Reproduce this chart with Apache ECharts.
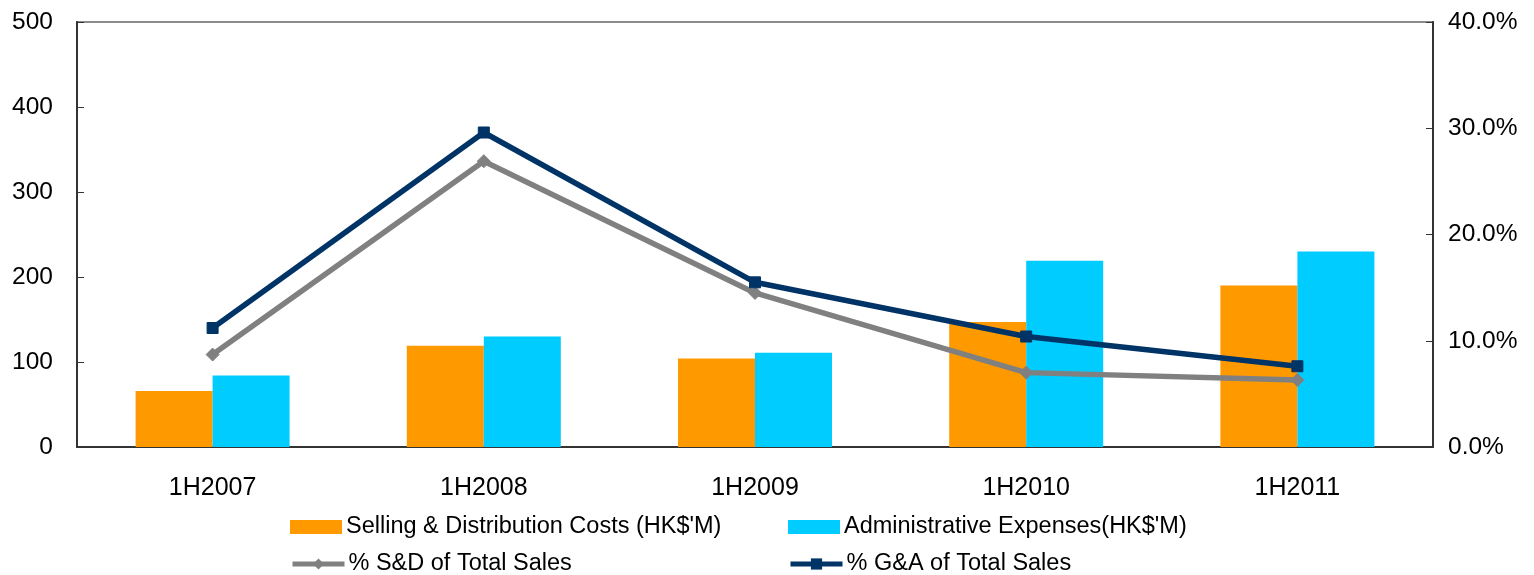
<!DOCTYPE html>
<html>
<head>
<meta charset="utf-8">
<script src="https://cdn.jsdelivr.net/npm/echarts@6/dist/echarts.min.js"></script>
<style>
  html,body{margin:0;padding:0;background:#fff;}
  #chart{width:1534px;height:575px;}
</style>
</head>
<body>
<div id="chart"></div>
<script>
var categories = ['1H2007', '1H2008', '1H2009', '1H2010', '1H2011'];
var sellingCosts = [66, 119, 104, 147, 190];
var adminExpenses = [84, 130, 111, 219, 230];
var pctSD = [8.7, 26.9, 14.5, 7.0, 6.3];
var pctGA = [11.2, 29.6, 15.5, 10.4, 7.6];

var FONT = 'Liberation Sans, Arial, sans-serif';
var chart = echarts.init(document.getElementById('chart'));

function legendAt(name, left, top, icon) {
  var lg = {
    data: [name],
    left: left,
    top: top,
    itemWidth: 52,
    itemHeight: 14,
    itemGap: 0,
    padding: 0,
    lineStyle: { width: 5 },
    textStyle: { fontFamily: FONT, fontSize: 23.5, color: '#000', padding: [0, 0, 0, -1] }
  };
  if (icon) lg.icon = icon;
  return lg;
}

chart.setOption({
  animation: false,
  grid: {
    left: 77, right: 101, top: 22, bottom: 128,
    show: true, borderColor: '#8c8c8c', borderWidth: 2
  },
  legend: [
    legendAt('Selling & Distribution Costs (HK$\'M)', 290, 515, 'rect'),
    legendAt('Administrative Expenses(HK$\'M)', 788, 515, 'rect'),
    legendAt('% S&D of Total Sales', 290, 552),
    legendAt('% G&A of Total Sales', 788, 552)
  ],
  xAxis: {
    type: 'category',
    data: categories,
    axisLine: { lineStyle: { color: '#333', width: 2 } },
    axisTick: { inside: true, length: 7, lineStyle: { color: '#333' } },
    axisLabel: { fontFamily: FONT, fontSize: 25, color: '#000', margin: 29 }
  },
  yAxis: [
    {
      type: 'value', min: 0, max: 500, interval: 100,
      splitLine: { show: false },
      axisLine: { show: true, lineStyle: { color: '#333', width: 2 } },
      axisTick: { show: true, inside: true, length: 7, lineStyle: { color: '#333' } },
      axisLabel: { fontFamily: FONT, fontSize: 24.5, color: '#000', margin: 24 }
    },
    {
      type: 'value', min: 0, max: 40, interval: 10, position: 'right',
      splitLine: { show: false },
      axisLine: { show: true, lineStyle: { color: '#333', width: 2 } },
      axisTick: { show: true, inside: true, length: 7, lineStyle: { color: '#333' } },
      axisLabel: {
        fontFamily: FONT, fontSize: 24.5, color: '#000', margin: 15,
        formatter: function (v) { return v.toFixed(1) + '%'; }
      }
    }
  ],
  series: [
    {
      name: 'Selling & Distribution Costs (HK$\'M)',
      type: 'bar', data: sellingCosts, barWidth: 77, barGap: '0%',
      itemStyle: { color: '#FF9900' }
    },
    {
      name: 'Administrative Expenses(HK$\'M)',
      type: 'bar', data: adminExpenses, barWidth: 77,
      itemStyle: { color: '#00CCFF' }
    },
    {
      name: '% S&D of Total Sales',
      type: 'line', yAxisIndex: 1, data: pctSD, z: 5,
      symbol: 'diamond', symbolSize: 13,
      lineStyle: { color: '#808080', width: 5.5 },
      itemStyle: { color: '#808080', borderColor: '#808080' }
    },
    {
      name: '% G&A of Total Sales',
      type: 'line', yAxisIndex: 1, data: pctGA, z: 6,
      symbol: 'rect', symbolSize: 11,
      lineStyle: { color: '#003366', width: 5.5 },
      itemStyle: { color: '#003366', borderColor: '#003366' }
    }
  ]
});
</script>
</body>
</html>
